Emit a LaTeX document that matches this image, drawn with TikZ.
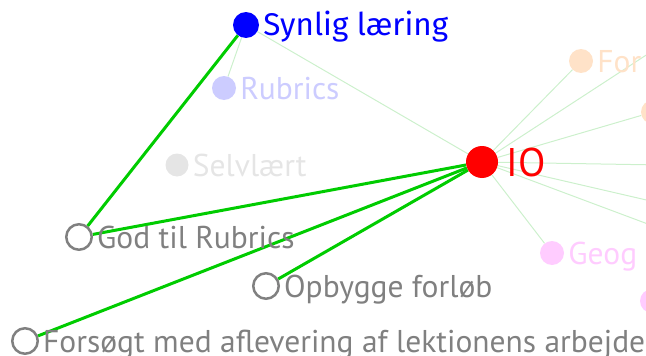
\documentclass[tikz,border=0pt]{standalone}
\usepackage{fontspec}
\setmainfont{PT Sans}
\newfontfamily\synfont{Fira Sans}
\usetikzlibrary{backgrounds}

\definecolor{linkgreen}{RGB}{0,204,0}
\definecolor{palegreen}{RGB}{204,240,204}
\definecolor{nodegray}{RGB}{128,128,128}
\definecolor{rubricblue}{RGB}{204,204,255}
\definecolor{selvgray}{RGB}{229,229,229}
\definecolor{peach}{RGB}{255,226,200}
\definecolor{pinkish}{RGB}{255,204,255}

\begin{document}
\begin{tikzpicture}[x=1pt, y=-1pt,
    filled/.style={circle, inner sep=0pt, minimum size=24pt},
    hollow/.style={circle, inner sep=0pt, draw=nodegray, line width=2.5pt, fill=white, minimum size=25.5pt},
    tag/.style={text=nodegray, font=\fontsize{31.5}{31.5}\selectfont, inner sep=2pt, text height=22pt, text depth=0pt},
    link/.style={linkgreen, line width=3pt},
    faintlink/.style={palegreen, line width=1pt},
    label distance=2pt
]
\useasboundingbox (0,0) rectangle (646,356);

% Nodes
\node[filled, fill=blue, minimum size=26pt, label={[tag, text=blue, font=\synfont\fontsize{31.4}{31.4}\selectfont, text height=21.6pt]right:Synlig læring}] (synlig) at (246,25) {};
\node[filled, fill=rubricblue, label={[tag, text=rubricblue]right:Rubrics}] (rubrics) at (224,88) {};
\node[filled, fill=selvgray, minimum size=23pt, label={[tag, text=selvgray]right:Selvlært}] (selvlaert) at (177,165) {};
\node[filled, fill=red, minimum size=32pt, label={[tag, text=red, font=\fontsize{40}{40}\selectfont, text height=28pt, label distance=6pt]right:IO}] (io) at (482,162) {};
\node[filled, fill=peach, label={[tag, text=peach]right:For}] (fora) at (581,61) {};
\node[filled, fill=peach] (forb) at (653,112) {};
\node[filled, fill=pinkish, label={[tag, text=pinkish]right:Geog}] (geog) at (552,253) {};
\node[filled, fill=pinkish] (geogb) at (652,301) {};

\node[hollow, label={[tag]right:God til Rubrics}] (god) at (79,237) {};
\node[hollow, label={[tag]right:Opbygge forløb}] (opbygge) at (266,286) {};
\node[hollow, label={[tag]right:Forsøgt med aflevering af lektionens arbejde}] (forsoegt) at (25,341) {};

% Off the page
\coordinate (offa) at (720,7);
\coordinate (offb) at (720,166);
\coordinate (offc) at (720,217);
\coordinate (offd) at (720,251);

% Edges
\begin{scope}[on background layer]
\draw[faintlink] (synlig) -- (rubrics);
\draw[faintlink] (synlig) -- (io);
\draw[faintlink] (io) -- (fora);
\draw[faintlink] (io) -- (offa);
\draw[faintlink] (io) -- (forb);
\draw[faintlink] (io) -- (offb);
\draw[faintlink] (io) -- (offc);
\draw[faintlink] (io) -- (offd);
\draw[faintlink] (io) -- (geog);

\draw[link] (synlig) -- (god);
\draw[link] (io) -- (god);
\draw[link] (io) -- (opbygge);
\draw[link] (io) -- (forsoegt);
\end{scope}

\end{tikzpicture}
\end{document}
